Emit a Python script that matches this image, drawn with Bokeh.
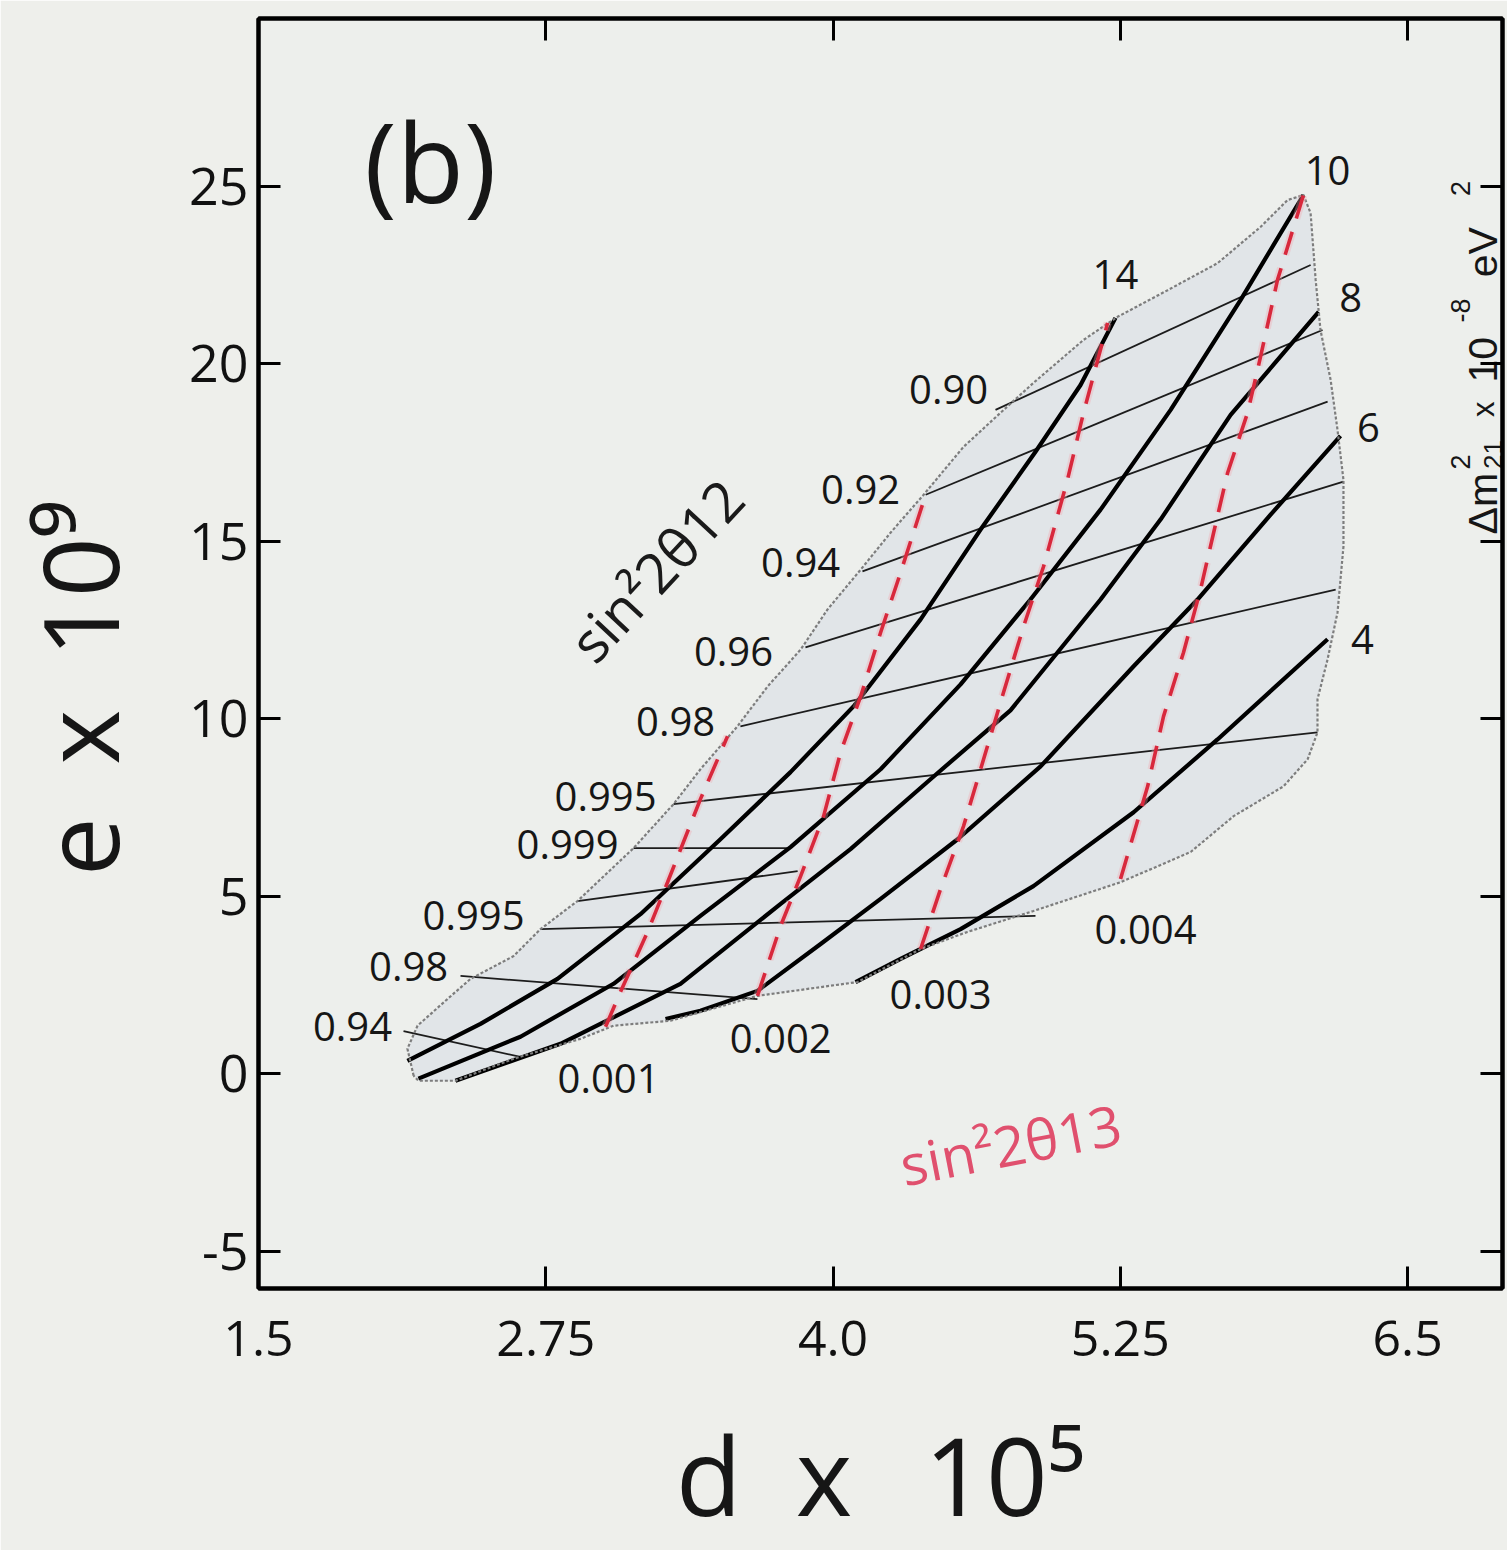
import math
from bokeh.plotting import figure
from bokeh.models import FixedTicker, LinearAxis, Label, ColumnDataSource
from bokeh.embed import file_html
from bokeh.resources import INLINE
from bokeh.core.properties import value

# ---------------- data : d (x1e5) , e (x1e9) ----------------
x_ticks = [1.5, 2.75, 4.0, 5.25, 6.5]
x_tick_labels = ["1.5", "2.75", "4.0", "5.25", "6.5"]
y_ticks = [-5, 0, 5, 10, 15, 20, 25]
y_tick_labels = ["-5", "0", "5", "10", "15", "20", "25"]

# outer envelope of the region
boundary = [(2.175, -0.05), (2.148, 0.71), (2.192, 1.36), (2.322, 2.11), (2.423, 2.68),
            (2.610, 3.32), (2.727, 4.08), (2.888, 4.87), (3.132, 6.36), (3.306, 7.60),
            (3.423, 8.58), (3.584, 9.79), (3.715, 10.91), (3.859, 11.95), (3.976, 13.08),
            (4.120, 14.20), (4.250, 15.24), (4.394, 16.31), (4.568, 17.66), (4.729, 18.62),
            (4.872, 19.46), (5.090, 20.67), (5.238, 21.32), (5.456, 22.07), (5.673, 22.83),
            (5.860, 23.85), (5.978, 24.61), (6.047, 24.75), (6.078, 24.24), (6.100, 22.36),
            (6.121, 20.95), (6.165, 19.55), (6.195, 18.14), (6.221, 16.73), (6.221, 14.85),
            (6.195, 12.99), (6.152, 11.68), (6.108, 10.55), (6.108, 9.62), (6.065, 8.86),
            (5.960, 8.10), (5.743, 7.26), (5.556, 6.25), (5.251, 5.40), (4.872, 4.59),
            (4.585, 4.00), (4.381, 3.52), (4.107, 2.59), (3.671, 2.20), (3.293, 1.50),
            (3.045, 1.36), (2.901, 0.99), (2.610, 0.43), (2.357, -0.19), (2.196, -0.19)]

# constant dm2_21 (x1e-8 eV^2) curves, thick black
dm2_labels = ["14", "10", "8", "6", "4"]
dm2_14 = [(2.148, 0.37), (2.466, 1.41), (2.801, 2.68), (3.162, 4.50), (3.510, 6.61),
          (3.815, 8.50), (4.089, 10.35), (4.381, 12.80), (4.642, 15.33), (4.881, 17.52),
          (5.077, 19.40), (5.229, 21.29)]
dm2_10 = [(2.196, -0.13), (2.640, 1.05), (3.045, 2.54), (3.423, 4.45), (3.815, 6.39),
          (4.207, 8.58), (4.555, 10.97), (4.859, 13.36), (5.164, 15.89), (5.469, 18.70),
          (5.773, 21.79), (6.047, 24.75)]
dm2_8 = [(2.357, -0.19), (2.814, 0.85), (3.336, 2.54), (3.772, 4.79), (4.076, 6.33),
         (4.424, 8.30), (4.772, 10.24), (5.164, 13.36), (5.425, 15.61), (5.730, 18.56),
         (6.113, 21.46)]
dm2_6 = [(3.271, 1.55), (3.423, 1.78), (3.671, 2.34), (3.946, 3.66), (4.207, 4.93),
         (4.542, 6.61), (4.903, 8.66), (5.308, 11.48), (5.586, 13.36), (5.904, 15.75),
         (6.208, 17.97)]
dm2_4 = [(4.098, 2.59), (4.294, 3.24), (4.555, 4.08), (4.872, 5.29), (5.308, 7.37),
         (5.673, 9.42), (6.152, 12.24)]

# constant sin^2 2theta13 curves, red dashed
s13_labels = ["0.001", "0.002", "0.003", "0.004"]
s13_001 = [(3.010, 1.33), (3.075, 2.31), (3.193, 4.00), (3.280, 5.40), (3.423, 7.74),
           (3.541, 9.51)]
s13_002 = [(3.671, 2.20), (3.772, 4.17), (3.859, 5.57), (3.959, 7.26), (4.033, 9.06),
           (4.120, 10.63), (4.207, 12.43), (4.294, 14.12), (4.403, 16.31)]
s13_003 = [(4.381, 3.52), (4.468, 5.21), (4.568, 6.98), (4.655, 8.86), (4.742, 10.75),
           (4.829, 12.60), (4.916, 14.29), (5.020, 16.73), (5.090, 18.62), (5.195, 21.15)]
s13_004 = [(5.251, 5.49), (5.369, 8.10), (5.438, 10.07), (5.525, 11.87), (5.599, 13.64),
           (5.656, 15.24), (5.717, 16.93), (5.804, 18.62), (5.860, 20.19), (5.934, 22.36),
           (6.047, 24.75)]

# constant sin^2 2theta12 lines, thin black
s12_labels = ["0.90", "0.92", "0.94", "0.96", "0.98", "0.995", "0.999", "0.995", "0.98", "0.94"]
s12_090 = [(4.707, 18.70), (6.078, 22.78)]
s12_092 = [(4.403, 16.31), (6.130, 20.95)]
s12_094 = [(4.128, 14.15), (6.152, 18.93)]
s12_096 = [(3.880, 12.01), (6.221, 16.68)]
s12_098 = [(3.597, 9.79), (6.187, 13.64)]
s12_0995a = [(3.306, 7.60), (6.108, 9.62)]
s12_0999 = [(3.132, 6.36), (3.815, 6.36)]
s12_0998 = [(2.888, 4.87), (3.846, 5.71)]
s12_0995b = [(2.727, 4.08), (4.881, 4.45)]
s12_098b = [(2.379, 2.76), (3.671, 2.11)]
s12_094b = [(2.131, 1.21), (2.640, 0.48)]

# ---------------- label placement (annotation layout) ----------------
s12_label_pos = [(4.503, 19.26), (4.120, 16.45), (3.859, 14.40), (3.567, 11.90), (3.315, 9.93),
                 (3.010, 7.82), (2.845, 6.47), (2.436, 4.45), (2.153, 3.04), (1.909, 1.33)]
s13_label_pos = [(3.023, -0.13), (3.772, 0.99), (4.468, 2.25), (5.360, 4.08)]
dm2_label_pos = [(5.229, 22.50), (6.152, 25.45), (6.252, 21.85), (6.330, 18.20), (6.304, 12.24)]

# pieces of the rotated unit label  (text, along-axis centre, baseline, size)
unit_pieces = [("Δm", 16.06, 6.830, "41px"), ("2", 17.23, 6.730, "27px"),
               ("21", 17.44, 6.870, "26px"), ("x", 18.72, 6.830, "31px"),
               ("10", 20.11, 6.830, "41px"), ("-8", 21.50, 6.730, "27px"),
               ("eV", 23.14, 6.830, "41px"), ("2", 24.93, 6.730, "27px")]

FONT = "Open Sans"
BG = "#eeefeb"
INK = "#161616"

p = figure(width=1507, height=1550, x_range=(1.5, 6.913), y_range=(-6.04, 29.72),
           output_backend="svg", toolbar_location=None,
           min_border_left=258, min_border_right=5, min_border_top=18, min_border_bottom=260)
p.background_fill_color = "#edefec"
p.border_fill_color = BG
p.outline_line_color = "black"
p.outline_line_width = 4
p.xgrid.visible = False
p.ygrid.visible = False

bottom_ax = p.below[0]
left_ax = p.left[0]


def style_axis(ax, ticks, labels=None, size="50px", standoff=12):
    ax.ticker = FixedTicker(ticks=ticks)
    ax.axis_line_width = 4
    ax.axis_line_color = "black"
    ax.major_tick_in = 22
    ax.major_tick_out = 0
    ax.major_tick_line_width = 3
    ax.minor_tick_line_color = None
    if labels is not None:
        ax.major_label_overrides = {t: l for t, l in zip(ticks, labels)}
        ax.major_label_text_font = FONT
        ax.major_label_text_font_size = size
        ax.major_label_text_color = "#111111"
        ax.major_label_standoff = standoff
    else:
        ax.major_label_text_color = None
        ax.major_label_text_font_size = "1px"
        ax.major_label_standoff = 0


style_axis(bottom_ax, x_ticks, x_tick_labels, size="50px", standoff=32)
style_axis(left_ax, y_ticks, y_tick_labels, size="52px", standoff=10)
top_ax = LinearAxis()
style_axis(top_ax, x_ticks[1:])
p.add_layout(top_ax, "above")
right_ax = LinearAxis()
style_axis(right_ax, y_ticks)
p.add_layout(right_ax, "right")

# axis titles
bottom_ax.axis_label = "d\u2002x\u2002\u200910\u2075"
left_ax.axis_label = "e\u2002x\u200210\u2079\u2002\u2009"
for ax in (bottom_ax, left_ax):
    ax.axis_label_text_font = FONT
    ax.axis_label_text_font_style = "normal"
    ax.axis_label_text_color = INK
bottom_ax.axis_label_text_font_size = "108px"
left_ax.axis_label_text_font_size = "105px"
bottom_ax.axis_label_standoff = 42
left_ax.axis_label_standoff = 36

# region fill
bx, by = zip(*boundary)
p.patch(list(bx), list(by), fill_color="#e1e5e8", line_color=None)

# thin sin^2 2theta12 lines
for seg in [s12_090, s12_092, s12_094, s12_096, s12_098, s12_0995a, s12_0999,
            s12_0998, s12_0995b, s12_098b, s12_094b]:
    xs, ys = zip(*seg)
    p.line(list(xs), list(ys), line_color="#1c1c1c", line_width=1.8)

# thick dm2 curves
for seg in [dm2_14, dm2_10, dm2_8, dm2_6, dm2_4]:
    xs, ys = zip(*seg)
    p.line(list(xs), list(ys), line_color="black", line_width=4.2, line_join="round")

# envelope line (grey, dotted look)
p.line(list(bx) + [bx[0]], list(by) + [by[0]], line_color="#7d7d7d", line_width=2.2,
       line_dash="3 2")

# red dashed sin^2 2theta13 curves
for seg in [s13_001, s13_002, s13_003, s13_004]:
    xs, ys = zip(*seg)
    p.line(list(xs), list(ys), line_color="#f3a6b0", line_width=8, line_alpha=0.35,
           line_dash="24 14")
    p.line(list(xs), list(ys), line_color="#d8283c", line_width=3.6, line_dash="24 14")

# number labels
all_txt = s12_labels + s13_labels + dm2_labels
all_pos = s12_label_pos + s13_label_pos + dm2_label_pos
src = ColumnDataSource(dict(x=[q[0] for q in all_pos], y=[q[1] for q in all_pos], t=all_txt))
p.text(x="x", y="y", text="t", source=src, text_font=value(FONT), text_font_size="40px",
       text_align="center", text_baseline="middle", text_color=INK)

# rotated unit label on the right, built from pieces
for t, yy, xx, fs in unit_pieces:
    p.text(x=[xx], y=[yy], text=[t], angle=math.pi / 2, text_font=value("Liberation Sans"),
           text_font_size=fs, text_align="center", text_baseline="alphabetic",
           text_color=INK)

# panel letter
p.add_layout(Label(x=2.248, y=25.73, text="(b)", text_font=FONT, text_font_size="110px",
                   text_align="center", text_baseline="middle", text_color=INK))

# curve-family names
p.add_layout(Label(x=3.228, y=14.20, text="sin²2θ12", angle=math.radians(47),
                   text_font=FONT, text_font_size="56px", text_align="center",
                   text_baseline="middle", text_color="#1a1a1a"))
p.add_layout(Label(x=4.772, y=-1.96, text="sin²2θ13", angle=math.radians(11),
                   text_font=FONT, text_font_size="56px", text_align="center",
                   text_baseline="middle", text_color="#e0506e"))

open("out.html", "w").write(file_html(p, INLINE))
